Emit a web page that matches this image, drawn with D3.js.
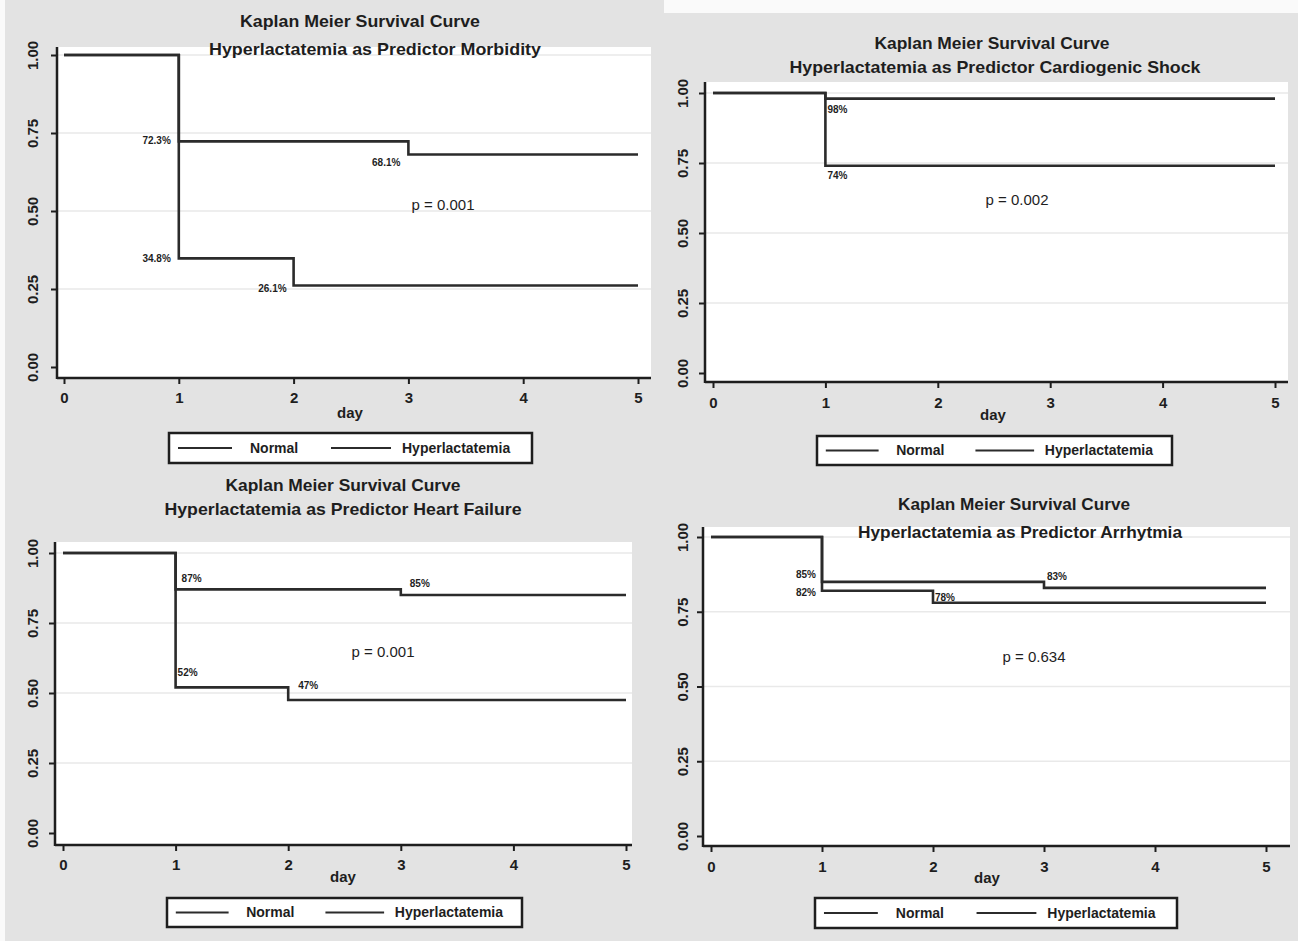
<!DOCTYPE html>
<html>
<head>
<meta charset="utf-8">
<script src="https://cdnjs.cloudflare.com/ajax/libs/d3/7.8.5/d3.min.js"></script>
<style>
  body { margin: 0; background: #e3e3e3; }
  svg { display: block; font-family: "Liberation Sans", Arial, sans-serif; }
</style>
</head>
<body>
<div id="chart"></div>
<script>
// data
const dayTicks = [0, 1, 2, 3, 4, 5];
const survTicks = [0, 0.25, 0.5, 0.75, 1];
const seriesNames = ["Normal", "Hyperlactatemia"];
const mainTitle = "Kaplan Meier Survival Curve";
const subTitles = [
  "Hyperlactatemia as Predictor Morbidity",
  "Hyperlactatemia as Predictor Cardiogenic Shock",
  "Hyperlactatemia as Predictor Heart Failure",
  "Hyperlactatemia as Predictor Arrhytmia"
];
const pValues = ["p = 0.001", "p = 0.002", "p = 0.001", "p = 0.634"];

const morbidityNormal = [{ day: 0, s: 1 }, { day: 1, s: 0.723 }, { day: 3, s: 0.681 }, { day: 5, s: 0.681 }];
const morbidityHyper = [{ day: 0, s: 1 }, { day: 1, s: 0.348 }, { day: 2, s: 0.261 }, { day: 5, s: 0.261 }];
const morbidityLabels = [
  { day: 1, s: 0.723, text: "72.3%" }, { day: 3, s: 0.681, text: "68.1%" },
  { day: 1, s: 0.348, text: "34.8%" }, { day: 2, s: 0.261, text: "26.1%" }
];

const shockNormal = [{ day: 0, s: 1 }, { day: 1, s: 0.98 }, { day: 5, s: 0.98 }];
const shockHyper = [{ day: 0, s: 1 }, { day: 1, s: 0.74 }, { day: 5, s: 0.74 }];
const shockLabels = [{ day: 1, s: 0.98, text: "98%" }, { day: 1, s: 0.74, text: "74%" }];

const failureNormal = [{ day: 0, s: 1 }, { day: 1, s: 0.87 }, { day: 3, s: 0.85 }, { day: 5, s: 0.85 }];
const failureHyper = [{ day: 0, s: 1 }, { day: 1, s: 0.52 }, { day: 2, s: 0.475 }, { day: 5, s: 0.475 }];
const failureLabels = [
  { day: 1, s: 0.87, text: "87%" }, { day: 3, s: 0.85, text: "85%" },
  { day: 1, s: 0.52, text: "52%" }, { day: 2, s: 0.475, text: "47%" }
];

const arrhythmiaNormal = [{ day: 0, s: 1 }, { day: 1, s: 0.85 }, { day: 3, s: 0.83 }, { day: 5, s: 0.83 }];
const arrhythmiaHyper = [{ day: 0, s: 1 }, { day: 1, s: 0.82 }, { day: 2, s: 0.78 }, { day: 5, s: 0.78 }];
const arrhythmiaLabels = [
  { day: 1, s: 0.85, text: "85%" }, { day: 3, s: 0.83, text: "83%" },
  { day: 1, s: 0.82, text: "82%" }, { day: 2, s: 0.78, text: "78%" }
];

// layout of each panel (pixels)
const panels = [
  {
    normal: morbidityNormal, hyper: morbidityHyper, labels: morbidityLabels,
    x0: 64, x5: 638, y1: 55, y0: 367, axisX: 57, axisY: 378, top: 47, right: 651,
    t1: [360, 27, 240], t2: [375, 55, 332], ylabX: 33, xlabY: 398, day: [350, 413],
    legend: [169, 433, 363, 30], p: [443, 205],
    labelPos: [[-8, 3, "end"], [-8, 11, "end"], [-8, 4, "end"], [-7, 6, "end"]]
  },
  {
    normal: shockNormal, hyper: shockHyper, labels: shockLabels,
    x0: 713, x5: 1275, y1: 93, y0: 373, axisX: 705, axisY: 382, top: 82, right: 1288,
    t1: [992, 49, 235], t2: [995, 73, 411], ylabX: 683, xlabY: 403, day: [993, 415],
    legend: [817, 436, 355, 29], p: [1017, 200],
    labelPos: [[2, 14, "start"], [2, 13, "start"]]
  },
  {
    normal: failureNormal, hyper: failureHyper, labels: failureLabels,
    x0: 63, x5: 626, y1: 553, y0: 833, axisX: 55, axisY: 845, top: 542, right: 632,
    t1: [343, 491, 235], t2: [343, 515, 357], ylabX: 33, xlabY: 865, day: [343, 877],
    legend: [167, 898, 355, 29], p: [383, 652],
    labelPos: [[6, -7, "start"], [9, -8, "start"], [2, -11, "start"], [10, -11, "start"]]
  },
  {
    normal: arrhythmiaNormal, hyper: arrhythmiaHyper, labels: arrhythmiaLabels,
    x0: 711, x5: 1266, y1: 537, y0: 836, axisX: 703, axisY: 846, top: 527, right: 1290,
    t1: [1014, 510, 232], t2: [1020, 538, 324], ylabX: 683, xlabY: 867, day: [987, 878],
    legend: [815, 898, 362, 30], p: [1034, 657],
    labelPos: [[-6, -4, "end"], [3, -8, "start"], [-6, 5, "end"], [2, -2, "start"]]
  }
];

const width = 1298;
const height = 941;
const ink = "#1e1e1e";

const svg = d3.select("#chart")
  .append("svg")
  .attr("width", width)
  .attr("height", height);

// white strips from the original composite
svg.append("rect").attr("x", 0).attr("y", 0).attr("width", 5).attr("height", height).attr("fill", "#fafafa");
svg.append("rect").attr("x", 664).attr("y", 0).attr("width", width - 664).attr("height", 13).attr("fill", "#fafafa");

panels.forEach((p, i) => {
  const g = svg.append("g");

  const x = d3.scaleLinear().domain([0, 5]).range([p.x0, p.x5]);
  const y = d3.scaleLinear().domain([0, 1]).range([p.y0, p.y1]);

  // plot region
  g.append("rect")
    .attr("x", p.axisX).attr("y", p.top)
    .attr("width", p.right - p.axisX).attr("height", p.axisY - p.top)
    .attr("fill", "#ffffff");

  // grid
  g.append("g")
    .selectAll("line")
    .data(survTicks.filter(d => d > 0))
    .join("line")
    .attr("x1", p.axisX).attr("x2", p.right)
    .attr("y1", d => y(d)).attr("y2", d => y(d))
    .attr("stroke", "#e9e9e9")
    .attr("stroke-width", 1.6);

  // titles
  g.append("text")
    .attr("x", p.t1[0]).attr("y", p.t1[1])
    .attr("text-anchor", "middle")
    .attr("textLength", p.t1[2]).attr("lengthAdjust", "spacingAndGlyphs")
    .style("font-size", "17px").style("font-weight", "bold").attr("fill", ink)
    .text(mainTitle);
  g.append("text")
    .attr("x", p.t2[0]).attr("y", p.t2[1])
    .attr("text-anchor", "middle")
    .attr("textLength", p.t2[2]).attr("lengthAdjust", "spacingAndGlyphs")
    .style("font-size", "17px").style("font-weight", "bold").attr("fill", ink)
    .text(subTitles[i]);

  // axes
  const xAxis = g.append("g")
    .attr("transform", `translate(0,${p.axisY})`)
    .call(d3.axisBottom(x).tickValues(dayTicks).tickSize(6).tickPadding(6).tickFormat(d3.format("d")));
  xAxis.select(".domain").remove();
  xAxis.selectAll("line").attr("stroke", ink).attr("stroke-width", 2);
  xAxis.selectAll("text")
    .attr("y", p.xlabY - p.axisY).attr("dy", "0.35em")
    .attr("fill", ink)
    .style("font-size", "15px").style("font-weight", "bold");

  const yAxis = g.append("g")
    .attr("transform", `translate(${p.axisX},0)`)
    .call(d3.axisLeft(y).tickValues(survTicks).tickSize(6).tickFormat(d3.format(".2f")));
  yAxis.select(".domain").remove();
  yAxis.selectAll("line").attr("stroke", ink).attr("stroke-width", 2);
  yAxis.selectAll("text")
    .attr("x", null).attr("dy", "0.36em")
    .attr("text-anchor", "middle")
    .attr("transform", `translate(${p.ylabX - p.axisX},0) rotate(-90)`)
    .attr("fill", ink)
    .style("font-size", "15px").style("font-weight", "bold");

  g.append("line")
    .attr("x1", p.axisX).attr("x2", p.axisX)
    .attr("y1", p.top).attr("y2", p.axisY + 1)
    .attr("stroke", ink).attr("stroke-width", 2.5);
  g.append("line")
    .attr("x1", p.axisX).attr("x2", p.right)
    .attr("y1", p.axisY).attr("y2", p.axisY)
    .attr("stroke", ink).attr("stroke-width", 2.5);

  g.append("text")
    .attr("x", p.day[0]).attr("y", p.day[1]).attr("dy", "0.35em")
    .attr("text-anchor", "middle").attr("fill", ink)
    .style("font-size", "15px").style("font-weight", "bold")
    .text("day");

  // survival curves
  const line = d3.line()
    .x(d => x(d.day))
    .y(d => y(d.s))
    .curve(d3.curveStepAfter);

  g.append("g")
    .selectAll("path")
    .data([p.normal, p.hyper])
    .join("path")
    .attr("d", line)
    .attr("fill", "none")
    .attr("stroke", "#2b2b2b")
    .attr("stroke-width", 2.6);

  // percentage labels
  g.append("g")
    .selectAll("text")
    .data(p.labels)
    .join("text")
    .attr("x", (d, k) => x(d.day) + p.labelPos[k][0])
    .attr("y", (d, k) => y(d.s) + p.labelPos[k][1])
    .attr("text-anchor", (d, k) => p.labelPos[k][2])
    .attr("fill", ink)
    .style("font-size", "10px").style("font-weight", "bold")
    .text(d => d.text);

  g.append("text")
    .attr("x", p.p[0]).attr("y", p.p[1]).attr("dy", "0.35em")
    .attr("text-anchor", "middle").attr("fill", ink)
    .style("font-size", "15px")
    .text(pValues[i]);

  // legend
  const [lx, ly, lw, lh] = p.legend;
  const k = lw / 363;
  const legend = g.append("g").attr("transform", `translate(${lx},${ly})`);
  legend.append("rect")
    .attr("width", lw).attr("height", lh)
    .attr("fill", "#ffffff").attr("stroke", ink).attr("stroke-width", 2.5);
  const items = [
    { name: seriesNames[0], x1: 9, x2: 63, tx: 81 },
    { name: seriesNames[1], x1: 162, x2: 222, tx: 233 }
  ];
  items.forEach(it => {
    legend.append("line")
      .attr("x1", it.x1 * k).attr("x2", it.x2 * k)
      .attr("y1", lh / 2).attr("y2", lh / 2)
      .attr("stroke", "#2b2b2b").attr("stroke-width", 2);
    legend.append("text")
      .attr("x", it.tx * k).attr("y", lh / 2).attr("dy", "0.35em")
      .attr("fill", ink)
      .style("font-size", "14px").style("font-weight", "bold")
      .text(it.name);
  });
});
</script>
</body>
</html>
